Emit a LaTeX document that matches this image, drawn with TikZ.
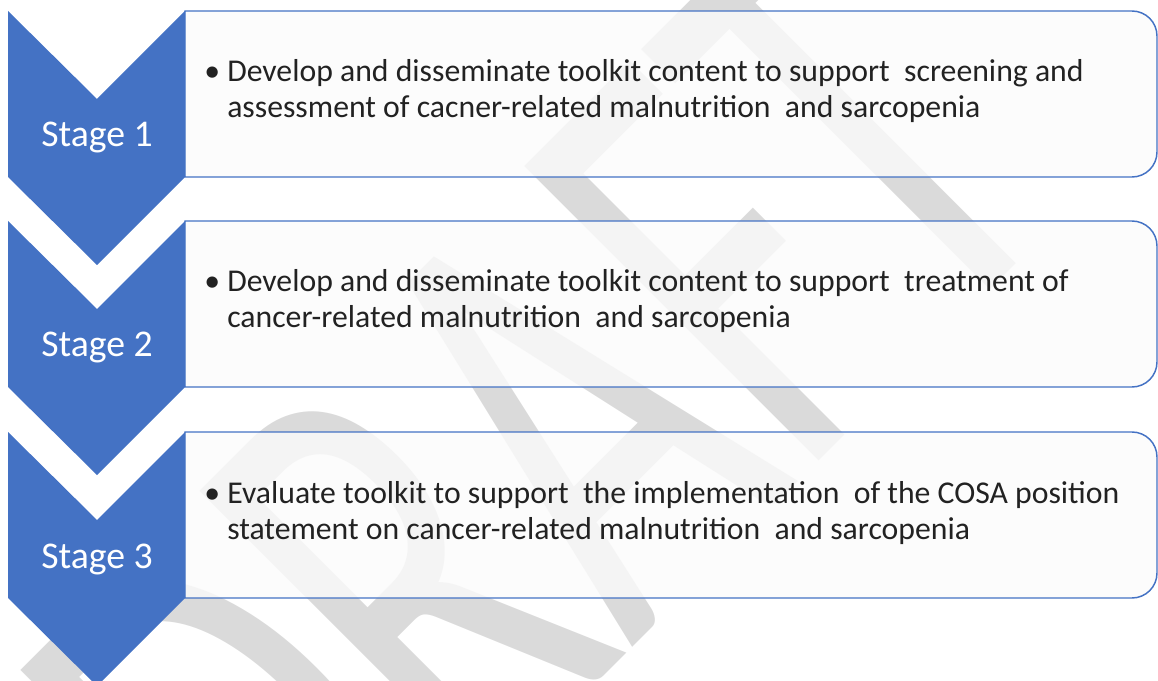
\documentclass[tikz,border=0pt]{standalone}
\usepackage{fontspec}
\setmainfont{Carlito}

\definecolor{chevblue}{HTML}{4472C4}
\definecolor{boxfill}{HTML}{FBFBFB}
\definecolor{wmgray}{HTML}{DADADA}
\definecolor{bodytext}{HTML}{222222}

\tikzset{
    chevron/.style={fill=chevblue},
    stagebox/.style={draw=chevblue, line width=1.1pt, fill=boxfill, fill opacity=0.8},
    stagelabel/.style={text=white, font=\fontsize{28.3}{33}\selectfont, inner sep=0pt, anchor=base},
    itemtext/.style={text=bodytext, font=\fontsize{23.8}{27}\selectfont, inner sep=0pt, anchor=base west},
    watermark/.style={text=wmgray, font=\fontsize{308}{308}\selectfont, inner sep=0pt, anchor=base west, rotate=45, yscale=1.58},
}

\begin{document}
\begin{tikzpicture}[x=0.75pt, y=-0.75pt]
    \useasboundingbox (0,0) rectangle (1158,681);
    \clip (0,0) rectangle (1158,681);

    % faint text behind everything
    \node[watermark] (draft) at (295,985) {DRAFT};

    \foreach \i/\y/\la/\lb in {
        1/11/{Develop and disseminate toolkit content to support\ \ screening and}/{assessment of cacner-related malnutrition\ \ and sarcopenia},
        2/221/{Develop and disseminate toolkit content to support\ \ treatment of}/{cancer-related malnutrition\ \ and sarcopenia},
        3/432/{Evaluate toolkit to support\ \ the implementation\ \ of the COSA position}/{statement on cancer-related malnutrition\ \ and sarcopenia}}
    {
        % box with rounded right side
        \draw[stagebox] (185,\y) -- (1132,\y) arc[start angle=90, end angle=0, radius=18.75pt]
            -- (1157,\y+141) arc[start angle=0, end angle=-90, radius=18.75pt]
            -- (185,\y+166) -- cycle;
        % chevron
        \fill[chevron] (8,\y) -- (97,\y+88) -- (185,\y) -- (185,\y+166) -- (97,\y+254) -- (8,\y+166) -- cycle;

        \node[stagelabel] (stage\i) at (97,\y+136) {Stage \i};
        \node[itemtext] (bullet\i) at (204,\y+71) {\textbullet};
        \node[itemtext] (line\i a) at (227,\y+71) {\la};
        \node[itemtext] (line\i b) at (227,\y+107) {\lb};
    }
\end{tikzpicture}
\end{document}
